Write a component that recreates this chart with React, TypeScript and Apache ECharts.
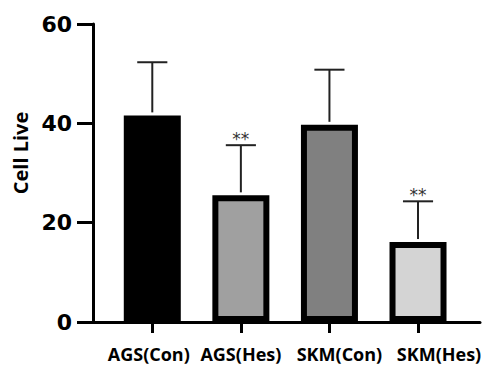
import React, { useEffect, useRef } from "react";
import * as echarts from "echarts";

const categories = ["AGS(Con)", "AGS(Hes)", "SKM(Con)", "SKM(Hes)"];
const means = [41.6, 25.5, 39.7, 16.1];
const upperErrors = [52.3, 35.6, 50.8, 24.3];
const significance = ["", "**", "", "**"];
const fillColors = ["#000000", "#a0a0a0", "#808080", "#d4d4d4"];
const yMin = 0;
const yMax = 60;
const yInterval = 20;

// horizontal nudges of the category labels relative to their ticks (px)
const labelShift = [-3.5, 0, 10, 21];

export default function App() {
  const ref = useRef<HTMLDivElement>(null);

  useEffect(() => {
    document.body.style.margin = "0";
    const chart = echarts.init(ref.current!, null, { renderer: "svg" });
    const errorData = categories.map((_, i) => [i, means[i], upperErrors[i]]);

    const labelFont = {
      color: "#000",
      fontFamily: "Open Sans",
      fontWeight: "bold",
      fontSize: 18,
    };
    const rich: Record<string, any> = {};
    labelShift.forEach((d, i) => {
      rich["c" + i] = {
        ...labelFont,
        padding: d >= 0 ? [0, 0, 0, 2 * d] : [0, -2 * d, 0, 0],
      };
    });

    chart.setOption({
      animation: false,
      backgroundColor: "#ffffff",
      grid: [
        { left: 108, width: 356, top: 24, bottom: 46 },
        { left: 93, right: 4, top: 24, bottom: 46 },
      ],
      xAxis: [
        {
          type: "category",
          gridIndex: 0,
          data: categories,
          axisLine: { show: false },
          axisTick: { show: true, alignWithLabel: true, length: 11, lineStyle: { color: "#000", width: 3 } },
          axisLabel: {
            interval: 0,
            margin: 23,
            ...labelFont,
            formatter: (v: string, i: number) => `{c${i}|${v}}`,
            rich,
          },
          splitLine: { show: false },
        },
        {
          type: "value",
          gridIndex: 1,
          min: 0,
          max: 1,
          axisLine: { show: true, lineStyle: { color: "#000", width: 3 } },
          axisTick: { show: false },
          axisLabel: { show: false },
          splitLine: { show: false },
        },
      ],
      yAxis: [
        {
          type: "value",
          gridIndex: 0,
          min: yMin,
          max: yMax,
          interval: yInterval,
          offset: 15,
          name: "Cell Live",
          nameLocation: "middle",
          nameRotate: 90,
          nameGap: 63,
          nameTextStyle: {
            color: "#000",
            fontFamily: "Open Sans",
            fontWeight: "bold",
            fontSize: 20,
            padding: [0, 0, 0, 40],
          },
          axisLine: { show: true, lineStyle: { color: "#000", width: 3 } },
          axisTick: { show: true, length: 16, lineStyle: { color: "#000", width: 3 } },
          axisLabel: {
            margin: 21,
            color: "#000",
            fontFamily: "DejaVu Sans",
            fontWeight: "bold",
            fontSize: 22,
          },
          splitLine: { show: false },
        },
        {
          type: "value",
          gridIndex: 1,
          show: false,
        },
      ],
      series: [
        {
          type: "bar",
          xAxisIndex: 0,
          yAxisIndex: 0,
          barWidth: 57,
          data: means.map((v, i) => ({
            value: v,
            itemStyle: { color: fillColors[i], borderColor: "#000", borderWidth: 6 },
          })),
          z: 2,
        },
        {
          type: "custom",
          xAxisIndex: 0,
          yAxisIndex: 0,
          z: 3,
          data: errorData,
          renderItem: (params: any, api: any) => {
            const idx = api.value(0);
            const base = api.coord([idx, api.value(1)]);
            const top = api.coord([idx, api.value(2)]);
            const half = api.size([1, 0])[0] * 0.17;
            const sig = significance[params.dataIndex];
            const children: any[] = [
              {
                type: "line",
                shape: { x1: base[0], y1: base[1] - 3, x2: top[0], y2: top[1] },
                style: { stroke: "#222", lineWidth: 2 },
              },
              {
                type: "line",
                shape: { x1: top[0] - half, y1: top[1], x2: top[0] + half, y2: top[1] },
                style: { stroke: "#222", lineWidth: 2 },
              },
            ];
            if (sig) {
              children.push({
                type: "text",
                style: {
                  x: top[0],
                  y: top[1] - 6,
                  text: sig,
                  align: "center",
                  verticalAlign: "middle",
                  fill: "#333",
                  fontFamily: "DejaVu Sans",
                  fontSize: 17,
                },
              });
            }
            return { type: "group", children };
          },
        },
      ],
    });

    return () => chart.dispose();
  }, []);

  return <div ref={ref} style={{ width: 484, height: 368 }} />;
}
